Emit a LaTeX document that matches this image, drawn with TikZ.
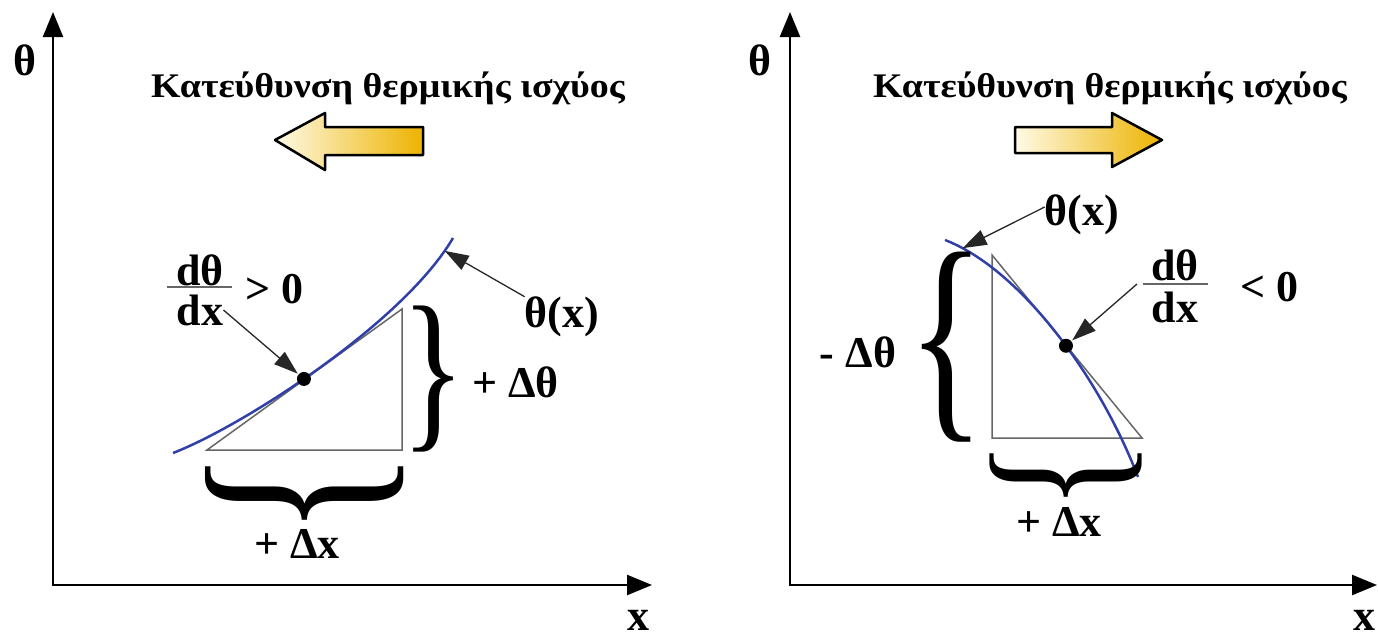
\documentclass[tikz,border=0pt]{standalone}
\usepackage{fontspec}
\setmainfont{Liberation Serif}
\usetikzlibrary{arrows.meta,shadings}
\definecolor{curveblue}{HTML}{3040A8}
\definecolor{gold}{HTML}{EDB300}
\definecolor{cream}{HTML}{FFFAE6}
\newcommand{\heattitle}{\scalebox{1.1}[1]{Κατεύθυνση θερμικής ισχύος}}
\begin{document}
\begin{tikzpicture}[x=1pt,y=-1pt,
 lbl/.style={font=\fontsize{44}{48}\selectfont\bfseries, inner sep=0},
 ttl/.style={font=\fontsize{34.5}{38}\selectfont\bfseries, inner sep=0},
 axis/.style={line width=2.5pt, {Triangle[length=25pt,width=20pt]}-{Triangle[length=25pt,width=20pt]}},
 pointer/.style={line width=1.3pt, draw=black!85, -{Triangle[length=24pt,width=16pt]}},
 curve/.style={line width=2.5pt, draw=curveblue},
 tri/.style={line width=1.5pt, draw=black!60},
 dot/.style={circle, fill=black, inner sep=0, minimum size=14pt},
 bigarrow/.style={line width=2.5pt, draw=black, line join=round},
 bracebox/.style={inner sep=0, font=\mdseries},
 fracbar/.style={line width=1.5pt, draw=black!60}]
\useasboundingbox (0,0) rectangle (1378,638);

% ---------- left panel ----------
\coordinate (ytipL) at (53,12);
\coordinate (oL) at (53,585);
\coordinate (xtipL) at (652,585);
\draw[axis] (ytipL) -- (oL) -- (xtipL);
\node[lbl] (thetaL) at (25,60) {θ};
\node[lbl] (xL) at (638,620) {x};

\node[ttl] (titleL) at (388,88) {\heattitle};
\shadedraw[bigarrow, left color=cream, right color=gold]
  (275,140) -- (325,113) -- (325,127) -- (423,127) -- (423,155) -- (325,155) -- (325,170) -- cycle;

\draw[tri] (207,450) -- (402,450) -- (402,309) -- cycle;
\draw[curve] (173,453) .. controls (243,426) and (403,323) .. (453,238)
  node[dot,pos=0.45] (dL) {} coordinate[pos=0.95] (cL);

\node[bracebox] (braceLv) at (434,379) {\resizebox*{64pt}{146pt}{\}}};
\node[bracebox, rotate=-90] (braceLh) at (305,494) {\resizebox*{86pt}{198pt}{\}}};

\node[lbl, anchor=west] (dthL) at (472,382) {+ Δθ};
\node[lbl] (dxLbl) at (297,544) {+ Δx};
\node[lbl] (fxL) at (562,317) {θ(x)};
\draw[pointer] (fxL.north west) -- (cL);

\node[lbl] (numL) at (200,270) {dθ};
\node[lbl] (denL) at (200,310) {dx};
\coordinate (barL1) at (167,287);
\coordinate (barL2) at (232,287);
\draw[fracbar] (barL1) -- (barL2);
\node[lbl, anchor=west] (gtL) at (245,289) {> 0};
\draw[pointer] (denL.east) -- (dL);

% ---------- right panel ----------
\coordinate (ytipR) at (790,12);
\coordinate (oR) at (790,585);
\coordinate (xtipR) at (1377,585);
\draw[axis] (ytipR) -- (oR) -- (xtipR);
\node[lbl] (thetaR) at (760,60) {θ};
\node[lbl] (xR) at (1364,620) {x};

\node[ttl] (titleR) at (1110,88) {\heattitle};
\shadedraw[bigarrow, left color=cream, right color=gold]
  (1015,127) -- (1112,127) -- (1112,113) -- (1162,140) -- (1112,167) -- (1112,153) -- (1015,153) -- cycle;

\draw[tri] (992,255) -- (992,438) -- (1142,438) -- cycle;
\draw[curve] (945,240) .. controls (1018,268) and (1098,373) .. (1138,477)
  node[dot,pos=0.56] (dR) {} coordinate[pos=0.08] (cR);

\node[bracebox] (braceRv) at (947,347) {\resizebox*{78pt}{190pt}{\{}};
\node[bracebox, rotate=-90] (braceRh) at (1066,476) {\resizebox*{70pt}{152pt}{\}}};

\node[lbl] (dthR) at (858,352) {- Δθ};
\node[lbl] (dxRbl) at (1059,522) {+ Δx};
\node[lbl] (fxR) at (1082,215) {θ(x)};
\draw[pointer] ([yshift=8pt]fxR.west) -- (cR);

\node[lbl] (numR) at (1175,265) {dθ};
\node[lbl] (denR) at (1175,307) {dx};
\coordinate (barR1) at (1143,284);
\coordinate (barR2) at (1208,284);
\draw[fracbar] (barR1) -- (barR2);
\node[lbl, anchor=west] (ltR) at (1240,287) {< 0};
\draw[pointer] ([xshift=-6pt]barR1) -- (dR);
\end{tikzpicture}
\end{document}
